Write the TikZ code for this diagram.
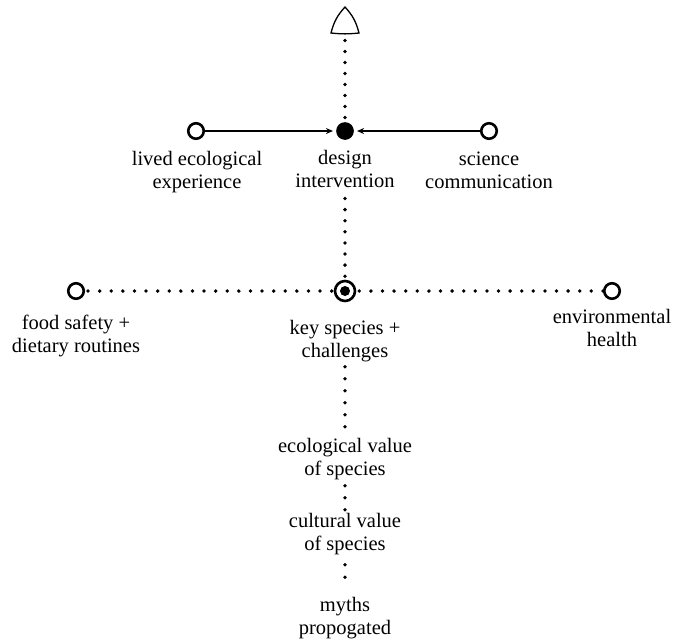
\documentclass[tikz,border=0pt]{standalone}
\usepackage{fontspec}
\setmainfont{Liberation Serif}
\usetikzlibrary{arrows.meta}
\tikzset{
  lbl/.style={align=center,inner sep=0pt,anchor=north,font=\fontsize{20.5}{23.5}\selectfont},
  hollow/.style={circle,draw,line width=2.6pt,minimum size=15.5pt,inner sep=0pt,fill=white},
  solidpt/.style={circle,fill,minimum size=17.7pt,inner sep=0pt},
  hub/.style={circle,draw,line width=2.6pt,minimum size=20pt,inner sep=0pt,fill=white,
    path picture={\fill[black] (path picture bounding box.center) circle (5pt);}},
  dots/.style={line width=3.8pt,line cap=round,dash pattern=on 0pt off #1},
  dots/.default=11.5pt,
  feed/.style={line width=1.1pt,-{Stealth[length=7pt,width=6pt]},shorten >=3pt}
}
\begin{document}
\begin{tikzpicture}
[x=1pt,y=-1pt]
\useasboundingbox (0,0) rectangle (685,643);
% top row
\node[solidpt] (design) at (345,131) {};
\node[hollow] (lived) at (196,131) {};
\node[hollow] (science) at (489,131) {};
\node[lbl] (designlbl) at (345,147.5) {\strut design\\intervention};
\node[lbl] (livedlbl) at (197,148.5) {\strut lived ecological\\experience};
\node[lbl] (sciencelbl) at (489,148.5) {\strut science\\communication};
\coordinate (tip) at (345,34);
% middle row
\node[hub] (key) at (345,291) {};
\node[hollow] (food) at (76,291) {};
\node[hollow] (env) at (612,291) {};
\node[lbl] (keylbl) at (345,317.5) {\strut key species +\\challenges};
\node[lbl] (foodlbl) at (76,312.5) {\strut food safety +\\dietary routines};
\node[lbl] (envlbl) at (612,306.5) {\strut environmental\\health};
% bottom column
\node[lbl] (ecol) at (345,435.5) {\strut ecological value\\of species};
\node[lbl] (cult) at (345,510.5) {\strut cultural value\\of species};
\node[lbl] (myths) at (345,594.5) {\strut myths\\propogated};

\draw[feed] (lived) -- (design);
\draw[feed] (science) -- (design);
\draw[dots=11pt,shorten <=4.5pt,shorten >=2pt] (design.north) -- (tip);
\draw[line width=1.3pt,line join=miter,fill=white] (tip) ++(-14,-1) to[bend left=14] ++(14,-26) to[bend left=14] ++(14,26) to[bend left=6] cycle;
\draw[dots=11.1pt,shorten <=3.5pt] (key.north) -- (designlbl.south);
\draw[dots=11.6pt,shorten <=3pt] (food.east) -- (key.west);
\draw[dots=11.6pt,shorten <=3pt] (key.east) -- (env.west);
\draw[dots=12pt,shorten <=4.5pt] (keylbl.south) -- (ecol.north);
\draw[dots=12pt,shorten <=5.5pt] (ecol.south) -- (cult.north);
\draw[dots=12.5pt,shorten <=9.5pt,shorten >=10pt] (cult.south) -- (myths.north);
\end{tikzpicture}
\end{document}
